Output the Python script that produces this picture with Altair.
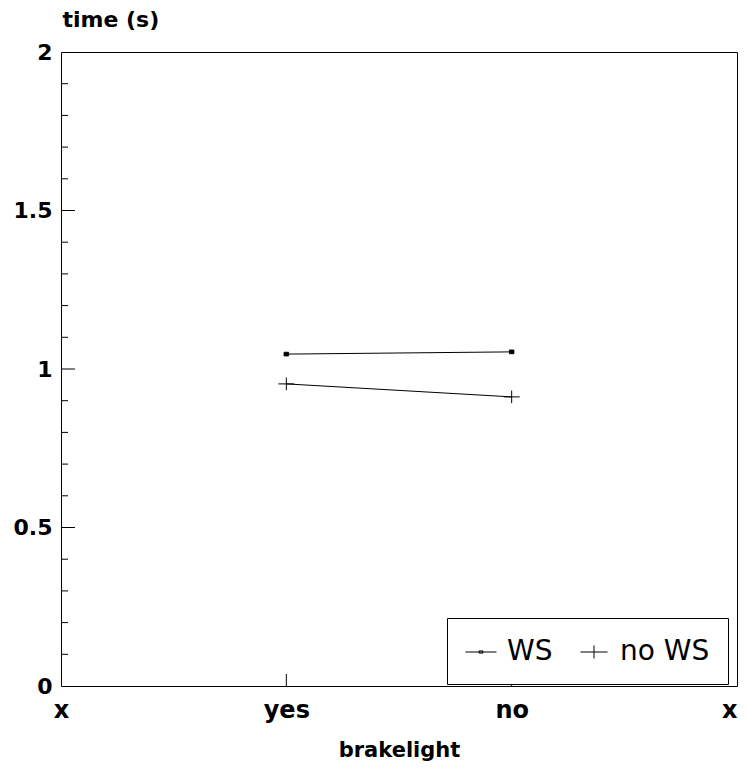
import json
import altair as alt
import pandas as pd

# ---- data ----
categories = ["yes", "no"]
series = ["WS", "no WS"]
ws_time = [1.047, 1.054]
no_ws_time = [0.953, 0.912]

x_tick_labels = ["x", "yes", "no", "x"]
y_tick_values = [0, 0.5, 1, 1.5, 2]
y_major_ticks = [0.5, 1, 1.5]
y_minor_ticks = [0.1, 0.2, 0.3, 0.4, 0.6, 0.7, 0.8, 0.9,
                 1.1, 1.2, 1.3, 1.4, 1.6, 1.7, 1.8, 1.9]

# ---- tables ----
rows = []
for s, vals in zip(series, [ws_time, no_ws_time]):
    for c, v in zip(categories, vals):
        rows.append({"series": s, "brakelight": c,
                     "pos": x_tick_labels.index(c), "time": v})
df = pd.DataFrame(rows)
xt = pd.DataFrame({"pos": [x_tick_labels.index(c) for c in categories]})
ymaj = pd.DataFrame({"time": y_major_ticks})
ymin = pd.DataFrame({"time": y_minor_ticks})

W, H = 676, 634
FONT = "DejaVu Sans"
LAST = len(x_tick_labels) - 1

xscale = alt.Scale(domain=[0, LAST], nice=False, zero=False)
yscale = alt.Scale(domain=[0, 2], nice=False)

label_expr = json.dumps(x_tick_labels) + "[datum.value]"

x_enc = alt.X("pos:Q", scale=xscale,
              axis=alt.Axis(values=list(range(len(x_tick_labels))),
                            labelExpr=label_expr, title="brakelight",
                            labelFlush=False, labelOverlap=False,
                            labelAlign={"condition": {"test": f"datum.value == {LAST}",
                                                      "value": "right"},
                                        "value": "center"},
                            labelBaseline="alphabetic", labelPadding=31,
                            labelFontSize=24, titleFontSize=21,
                            titleBaseline="alphabetic", titleY=70))
y_enc = alt.Y("time:Q", scale=yscale,
              axis=alt.Axis(values=y_tick_values, format="~g", title="time (s)",
                            labelFlush=False, labelOverlap=False,
                            labelBaseline="middle", labelPadding=9,
                            labelFontSize=22, titleFontSize=22,
                            titleAngle=0, titleAlign="left",
                            titleBaseline="alphabetic", titleX=1, titleY=-26))

square_path = "M-0.16,-0.13H0.16V0.13H-0.16Z"
cross_path = "M-0.57,0H0.57M0,-0.45V0.45"
leg_ws_path = "M-1,0H1M-0.12,-0.07H0.12V0.07H-0.12Z"
leg_nows_path = "M-0.87,0H0.87M0,-0.42V0.42"

base = alt.Chart(df)

lines = base.mark_line(color="black", strokeWidth=1).encode(
    x=x_enc, y=y_enc, detail="series:N")

points = base.mark_point(fill="black", stroke="black", strokeWidth=1,
                         size=784, opacity=1).encode(
    x=x_enc, y=y_enc,
    shape=alt.Shape("series:N",
                    scale=alt.Scale(domain=series, range=[square_path, cross_path]),
                    legend=None))

legend_layer = base.transform_filter("false").mark_point(
    filled=False, color="black", strokeWidth=1, size=961, opacity=1).encode(
    x=x_enc, y=y_enc,
    shape=alt.Shape("series:N",
                    scale=alt.Scale(domain=series, range=[leg_ws_path, leg_nows_path]),
                    legend=alt.Legend(orient="none", legendX=386, legendY=566,
                                      direction="horizontal", title=None,
                                      strokeColor="black", fillColor="white",
                                      padding=18, columnPadding=25, labelOffset=10,
                                      labelFontSize=28, labelFont=FONT,
                                      labelFontWeight="normal", labelColor="black",
                                      symbolSize=961, symbolStrokeWidth=1,
                                      symbolOpacity=1)))

ymaj_ticks = alt.Chart(ymaj).mark_rule(color="black", strokeWidth=1).encode(
    y=alt.Y("time:Q", scale=yscale), x=alt.value(0), x2=alt.value(14))
ymin_ticks = alt.Chart(ymin).mark_rule(color="black", strokeWidth=1).encode(
    y=alt.Y("time:Q", scale=yscale), x=alt.value(0), x2=alt.value(7))
x_ticks = alt.Chart(xt).mark_rule(color="black", strokeWidth=1).encode(
    x=alt.X("pos:Q", scale=xscale), y=alt.value(H), y2=alt.value(H - 12))

chart = alt.layer(lines, points, legend_layer, ymaj_ticks, ymin_ticks, x_ticks).resolve_scale(
    shape="independent"
).properties(
    width=W, height=H,
    padding={"left": 53, "top": 44, "right": 2, "bottom": 75},
    autosize=alt.AutoSizeParams(type="none"),
    background="white",
).configure_view(
    stroke="black", strokeWidth=1
).configure_axis(
    grid=False, ticks=False, domain=False,
    labelFont=FONT, labelFontWeight="bold", labelColor="black",
    titleFont=FONT, titleFontWeight="bold", titleColor="black",
)

chart.save("out.html", embed_options={"renderer": "svg", "actions": False})
